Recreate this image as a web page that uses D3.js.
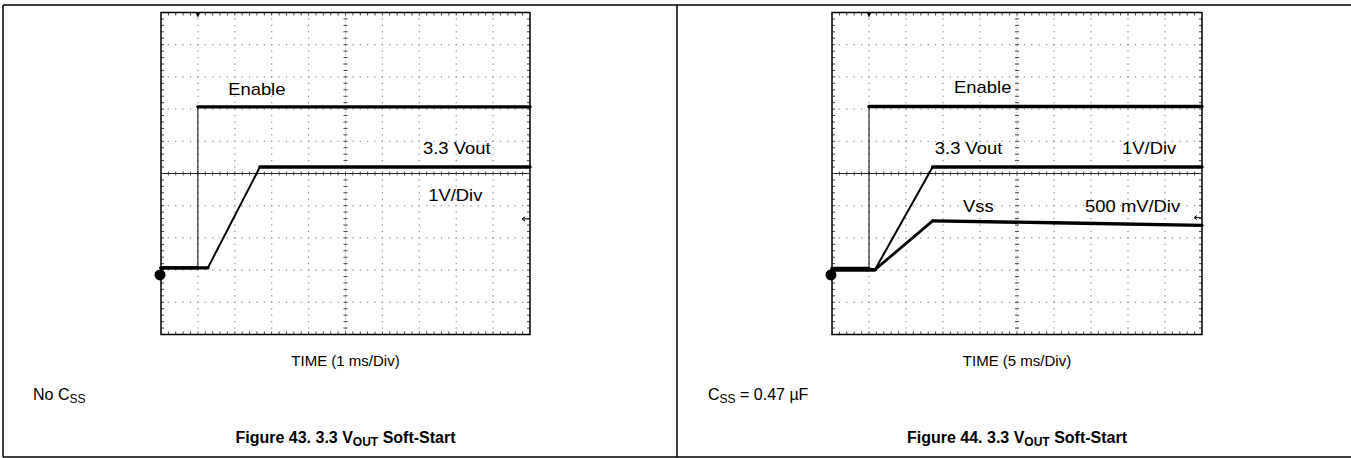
<!DOCTYPE html>
<html>
<head>
<meta charset="utf-8">
<title>3.3 VOUT Soft-Start</title>
<script src="https://cdn.jsdelivr.net/npm/d3@7"></script>
<style>
  body { margin: 0; background: #fff; }
  svg { display: block; font-family: "Liberation Sans", Arial, Helvetica, sans-serif; }
</style>
</head>
<body>
<svg width="1351" height="458"></svg>
<script>
// ---- data: [time (ms), volts], trigger at t = 0 ----
// Figure 43, no Css, 1 ms/div, 1 V/div
const fig43Enable = [[-1, 0.22], [0, 0.22], [0, 5.22], [9, 5.22]];
const fig43Vout = [[-1, 0.22], [0.27, 0.22], [1.68, 3.35], [9, 3.35]];
// Figure 44, Css = 0.47 uF, 5 ms/div
const fig44Enable = [[-5, 0.2], [0, 0.2], [0, 5.23], [45, 5.23]];
const fig44Vout = [[-5, 0.16], [0.8, 0.16], [8.6, 3.35], [45, 3.35]];
const fig44Vss = [[-5, 0.08], [0.8, 0.08], [8.6, 0.84], [25, 0.81], [45, 0.77]]; // 500 mV/div

const timeDomains = [[-1, 9], [-5, 45]];
const voltDomain = [-1.85, 8.15];   // 10 div at 1 V/div
const vssDomain = [-0.925, 4.075];  // 10 div at 500 mV/div
const trigLevel = [1.74, 1.78];

const timeLabels = ["TIME (1 ms/Div)", "TIME (5 ms/Div)"];
const figNumbers = ["Figure 43. 3.3 V", "Figure 44. 3.3 V"];

// trace labels: [text, t, v]
const fig43Labels = [["Enable", 0.82, 5.59], ["3.3 Vout", 6.1, 3.76], ["1V/Div", 6.24, 2.31]];
const fig44Labels = [["Enable", 11.5, 5.65], ["3.3 Vout", 8.9, 3.76], ["1V/Div", 34.2, 3.76],
                     ["Vss", 12.7, 1.96], ["500 mV/Div", 29.2, 1.96]];

const svg = d3.select("svg");
const W = 1351, H = 458;

// table frame
const frame = svg.append("g").attr("stroke", "#000").attr("stroke-width", 1.5);
frame.append("line").attr("x1", 3).attr("x2", W).attr("y1", 5).attr("y2", 5);
frame.append("line").attr("x1", 3).attr("x2", W).attr("y1", 457).attr("y2", 457);
frame.append("line").attr("x1", 3).attr("x2", 3).attr("y1", 5).attr("y2", 457);
frame.append("line").attr("x1", 677).attr("x2", 677).attr("y1", 5).attr("y2", 457);

const panels = [
  { x0: 161, x1: 530, td: timeDomains[0], traces: [fig43Enable, fig43Vout], vss: null,
    labels: fig43Labels, time: timeLabels[0], fig: figNumbers[0], note: ["No C", "SS", ""], noteX: 33 },
  { x0: 832, x1: 1202, td: timeDomains[1], traces: [fig44Enable, fig44Vout], vss: fig44Vss,
    labels: fig44Labels, time: timeLabels[1], fig: figNumbers[1], note: ["C", "SS", " = 0.47 µF"], noteX: 708 }
];
const y0 = 12.5, y1 = 334.5;

panels.forEach(p => {
  const x = d3.scaleLinear().domain(p.td).range([p.x0, p.x1]);
  const y = d3.scaleLinear().domain(voltDomain).range([y1, y0]);
  const yv = d3.scaleLinear().domain(vssDomain).range([y1, y0]);
  const g = svg.append("g");
  const divX = (p.x1 - p.x0) / 10, divY = (y1 - y0) / 10;

  // dotted graticule
  const dots = [];
  for (let i = 1; i < 10; i++) {
    for (let j = 1; j < 50; j++) {
      if (i !== 5) dots.push([p.x0 + i * divX, y0 + j * divY / 5]);
      if (i !== 5) dots.push([p.x0 + j * divX / 5, y0 + i * divY]);
    }
  }
  g.selectAll(".dot").data(dots).join("rect")
    .attr("x", d => d[0] - 0.6).attr("y", d => d[1] - 0.6)
    .attr("width", 1.2).attr("height", 1.2).attr("fill", "#8a8a8a");

  // centre crosshair
  const cx = p.x0 + 5 * divX, cy = y0 + 5 * divY;
  g.append("line").attr("x1", p.x0).attr("x2", p.x1).attr("y1", cy).attr("y2", cy)
    .attr("stroke", "#222").attr("stroke-width", 1);
  g.append("line").attr("x1", cx).attr("x2", cx).attr("y1", y0).attr("y2", y1)
    .attr("stroke", "#999").attr("stroke-width", 1).attr("stroke-dasharray", "1,2");

  // minor ticks on centre lines and edges
  const ticks = g.append("g").attr("stroke", "#444").attr("stroke-width", 1);
  for (let j = 1; j < 50; j++) {
    const tx = p.x0 + j * divX / 5, ty = y0 + j * divY / 5;
    ticks.append("line").attr("x1", tx).attr("x2", tx).attr("y1", cy - 2).attr("y2", cy + 2);
    ticks.append("line").attr("x1", cx - 2).attr("x2", cx + 2).attr("y1", ty).attr("y2", ty);
    ticks.append("line").attr("x1", tx).attr("x2", tx).attr("y1", y0).attr("y2", y0 + 3);
    ticks.append("line").attr("x1", tx).attr("x2", tx).attr("y1", y1 - 3).attr("y2", y1);
    ticks.append("line").attr("x1", p.x0).attr("x2", p.x0 + 3).attr("y1", ty).attr("y2", ty);
    ticks.append("line").attr("x1", p.x1 - 3).attr("x2", p.x1).attr("y1", ty).attr("y2", ty);
  }

  // border
  g.append("rect").attr("x", p.x0).attr("y", y0).attr("width", p.x1 - p.x0).attr("height", y1 - y0)
    .attr("fill", "none").attr("stroke", "#000").attr("stroke-width", 1.5);

  // traces
  const series = p.traces.map(d => ({ d, ys: y, ramp: 2 }));
  if (p.vss) series.push({ d: p.vss, ys: yv, ramp: 2.8 });
  series.forEach(s => {
    for (let k = 1; k < s.d.length; k++) {
      const a = s.d[k - 1], b = s.d[k];
      const dx = x(b[0]) - x(a[0]), dy = s.ys(b[1]) - s.ys(a[1]);
      const w = dx === 0 ? 1 : (Math.abs(dy / dx) < 0.1 ? 3.4 : s.ramp);
      g.append("line")
        .attr("x1", x(a[0])).attr("y1", s.ys(a[1])).attr("x2", x(b[0])).attr("y2", s.ys(b[1]))
        .attr("stroke", "#000").attr("stroke-width", w)
        .attr("stroke-linecap", dx === 0 ? "butt" : "round");
    }
  });

  // ground marker, trigger position and level
  g.append("circle").attr("cx", p.x0 - 1).attr("cy", y(0)).attr("r", 5.5).attr("fill", "#000");
  const tx = x(0);
  g.append("path").attr("d", `M${tx - 2.5},${y0} L${tx + 2.5},${y0} L${tx},${y0 + 5} Z`).attr("fill", "#000");
  const ly = y(trigLevel[p.vss ? 1 : 0]);
  g.append("path").attr("d", `M${p.x1 - 8},${ly} L${p.x1 - 1},${ly} M${p.x1 - 8},${ly} l3,-2 M${p.x1 - 8},${ly} l3,2`)
    .attr("stroke", "#000").attr("stroke-width", 1).attr("fill", "none");

  // trace labels
  p.labels.forEach(l => {
    g.append("text").attr("transform", `translate(${x(l[1])},${y(l[2])}) scale(1.15,1)`)
      .attr("font-size", 16).text(l[0]);
  });

  // captions
  svg.append("text").attr("x", cx).attr("y", 366).attr("text-anchor", "middle")
    .attr("font-size", 15).text(p.time);

  const note = svg.append("text").attr("x", p.noteX).attr("y", 400).attr("font-size", 16);
  note.append("tspan").text(p.note[0]);
  note.append("tspan").attr("dy", 3).attr("font-size", 12).text(p.note[1]);
  note.append("tspan").attr("dy", -3).text(p.note[2]);

  const fig = svg.append("text").attr("x", cx).attr("y", 443).attr("text-anchor", "middle")
    .attr("font-size", 16).attr("font-weight", "bold");
  fig.append("tspan").text(p.fig);
  fig.append("tspan").attr("dy", 3).attr("font-size", 12).text("OUT");
  fig.append("tspan").attr("dy", -3).text(" Soft-Start");
});
</script>
</body>
</html>
